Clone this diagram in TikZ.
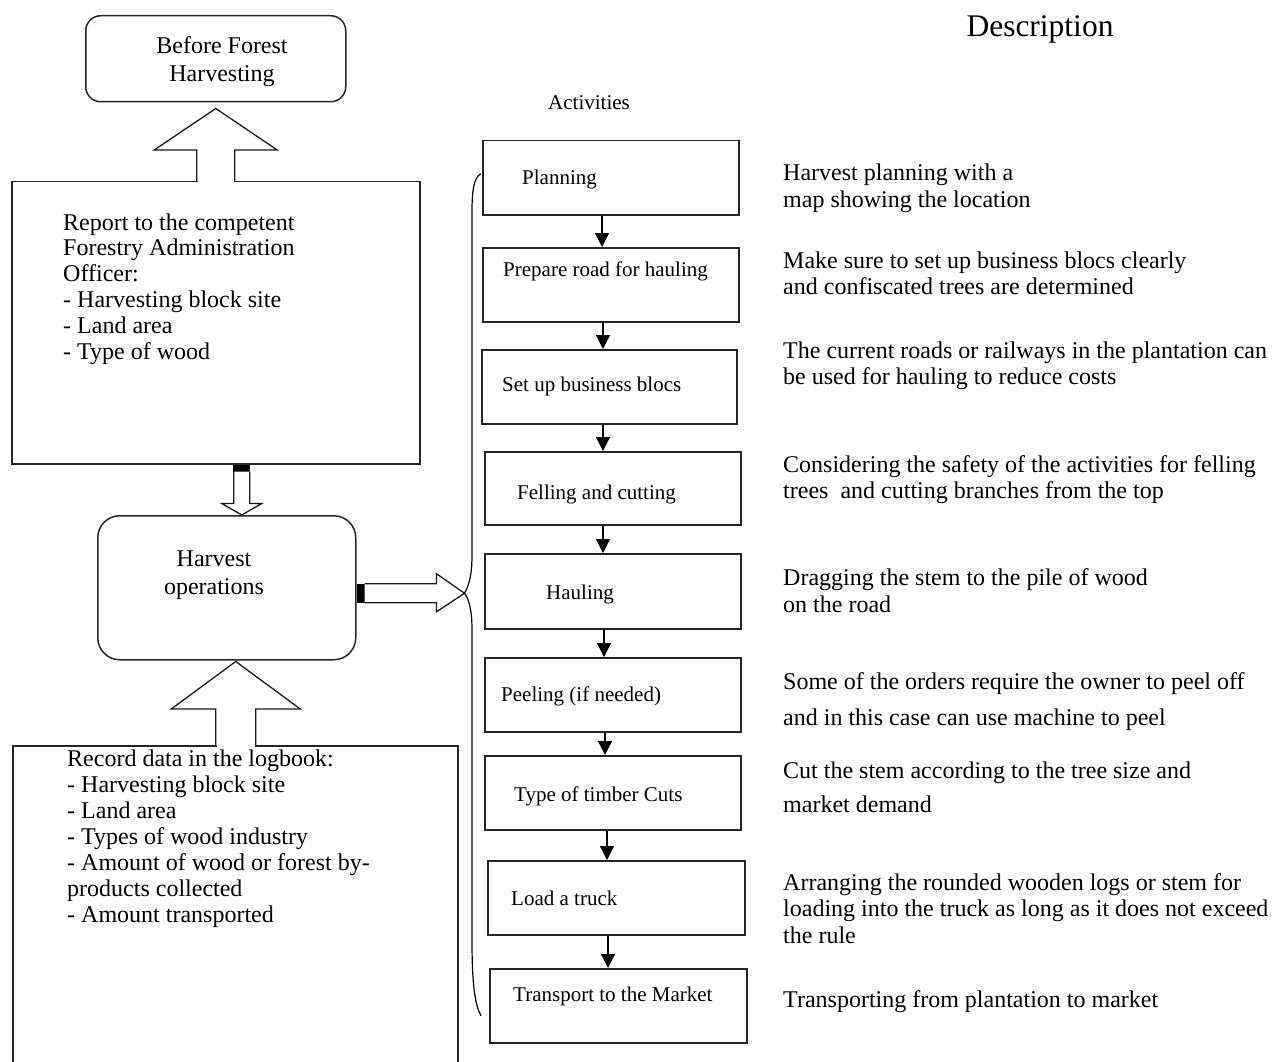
\documentclass[tikz,border=0pt]{standalone}
\usepackage{fontspec}
\setmainfont{Liberation Serif}
\usetikzlibrary{calc,arrows.meta}
\begin{document}
\begin{tikzpicture}[x=1pt,y=-1pt,
  frame/.style={draw=black!85,line width=1.5pt},
  stepbox/.style={frame,rectangle,inner sep=0pt,anchor=north west},
  roundbox/.style={frame,rectangle,rounded corners=#1,inner sep=0pt,anchor=north west},
  lbl/.style={inner sep=0pt,anchor=base west,font=\fontsize{21}{25}\selectfont},
  txt/.style={inner sep=0pt,anchor=base west,font=\fontsize{24}{26}\selectfont},
  ctxt/.style={inner sep=0pt,anchor=base,font=\fontsize{24}{26}\selectfont},
  flow/.style={line width=1.2pt,-{Triangle[width=14pt,length=14pt]}},
  blockarrow/.style={draw=black!90,line width=1.3pt,fill=white,line join=miter},
  brace/.style={line width=1.2pt}
]
\useasboundingbox (0,0) rectangle (1283,1062);
\fill[white] (0,0) rectangle (1283,1062);

% ---------- left column ----------
\node[roundbox=15pt,minimum width=260pt,minimum height=86pt] (before) at (85,15) {};
\node[ctxt] (beforeA) at (222,53.3) {Before Forest};
\node[ctxt] (beforeB) at (222,81.7) {Harvesting};

\node[stepbox,minimum width=408pt,minimum height=282pt] (report) at (11,181) {};
\foreach \ln [count=\i from 0] in {{Report to the competent},{Forestry Administration},{Officer:},{- Harvesting block site},{- Land area},{- Type of wood}}
  \node[txt] (rep\i) at (63,{230+25.8*\i}) {\ln};

\node[roundbox=22pt,minimum width=258pt,minimum height=144pt] (harvest) at (97,515) {};
\node[ctxt] (harvA) at (214,566) {Harvest};
\node[ctxt] (harvB) at (214,594) {operations};

\node[stepbox,minimum width=445pt,minimum height=360pt] (record) at (12,745) {};
\foreach \ln [count=\i from 0] in {{Record data in the logbook:},{- Harvesting block site},{- Land area},{- Types of wood industry},{- Amount of wood or forest by-},{products collected},{- Amount transported}}
  \node[txt] (rec\i) at (67,{766.7+26*\i}) {\ln};

% block arrow: report -> before
\coordinate (u1tip) at ($(before.south)+(0,6)$);
\coordinate (u1base) at (report.north);
\fill[white] ($(u1base)+(-18,-2)$) rectangle ($(u1base)+(18,2)$);
\draw[blockarrow] ($(u1base)+(-19,0)$) -- ($(u1base)+(-19,-31)$) -- ($(u1base)+(-61.5,-31)$)
  -- (u1tip) -- ($(u1base)+(61.5,-31)$) -- ($(u1base)+(19,-31)$) -- ($(u1base)+(19,0)$);

% block arrow: report -> harvest
\coordinate (d1top) at ($(report.south)+(26,0)$);
\coordinate (d1tip) at (d1top |- harvest.north);
\fill[black] ($(d1top)+(-8.5,0)$) rectangle ($(d1top)+(8.5,7)$);
\draw[blockarrow] ($(d1top)+(-8,7)$) -- ($(d1top)+(-8,39)$) -- ($(d1top)+(-20,39)$)
  -- (d1tip) -- ($(d1top)+(20,39)$) -- ($(d1top)+(8,39)$) -- ($(d1top)+(8,7)$);

% block arrow: record -> harvest
\coordinate (u2tip) at ($(harvest.south)+(9,1)$);
\coordinate (u2base) at (u2tip |- record.north);
\fill[white] ($(u2base)+(-19,-2)$) rectangle ($(u2base)+(19,2)$);
\draw[blockarrow] ($(u2base)+(-20,0)$) -- ($(u2base)+(-20,-36)$) -- ($(u2base)+(-64.5,-36)$)
  -- (u2tip) -- ($(u2base)+(64.5,-36)$) -- ($(u2base)+(20,-36)$) -- ($(u2base)+(20,0)$);

% block arrow: harvest -> activities
\coordinate (r0) at ($(harvest.east)+(0,5.5)$);
\coordinate (bracetip) at ($(r0)+(108,0)$);
\fill[black] ($(r0)+(0,-9.5)$) rectangle ($(r0)+(8,9.5)$);
\draw[blockarrow] ($(r0)+(8,-9.5)$) -- ($(r0)+(80,-9.5)$) -- ($(r0)+(80,-19.5)$)
  -- (bracetip) -- ($(r0)+(80,18.5)$) -- ($(r0)+(80,9.5)$) -- ($(r0)+(8,9.5)$);

% ---------- activities ----------
\node[inner sep=0pt,anchor=base,font=\fontsize{21}{25}\selectfont] (acttitle) at (589,110) {Activities};

\node[stepbox,minimum width=256pt,minimum height=74pt] (p1) at (482,140) {};
\node[stepbox,minimum width=256pt,minimum height=74pt] (p2) at (482,247) {};
\node[stepbox,minimum width=255pt,minimum height=74pt] (p3) at (481,349) {};
\node[stepbox,minimum width=256pt,minimum height=73pt] (p4) at (484,451) {};
\node[stepbox,minimum width=256pt,minimum height=75pt] (p5) at (484,553) {};
\node[stepbox,minimum width=256pt,minimum height=74pt] (p6) at (484,657) {};
\node[stepbox,minimum width=256pt,minimum height=74pt] (p7) at (484,755) {};
\node[stepbox,minimum width=257pt,minimum height=74pt] (p8) at (487,860) {};
\node[stepbox,minimum width=257pt,minimum height=74pt] (p9) at (489,968) {};

\node[lbl] (l1) at (522,185) {Planning};
\node[lbl] (l2) at (503,276.7) {Prepare road for hauling};
\node[lbl] (l3) at (502,391.7) {Set up business blocs};
\node[lbl] (l4) at (517,499) {Felling and cutting};
\node[lbl] (l5) at (546,599.3) {Hauling};
\node[lbl] (l6) at (501,701) {Peeling (if needed)};
\node[lbl] (l7) at (514,801.7) {Type of timber Cuts};
\node[lbl] (l8) at (511,905.7) {Load a truck};
\node[lbl] (l9) at (513,1001.7) {Transport to the Market};

\coordinate (a1) at ($(p1.south west)+(120,0)$);
\coordinate (a2) at ($(p2.south west)+(121,0)$);
\coordinate (a3) at ($(p3.south west)+(122,0)$);
\coordinate (a4) at ($(p4.south west)+(119,0)$);
\coordinate (a5) at ($(p5.south west)+(120,0)$);
\coordinate (a6) at ($(p6.south west)+(121,0)$);
\coordinate (a7) at ($(p7.south west)+(123,0)$);
\coordinate (a8) at ($(p8.south west)+(121,0)$);
\draw[flow] (a1) -- (a1 |- p2.north);
\draw[flow] (a2) -- (a2 |- p3.north);
\draw[flow] (a3) -- (a3 |- p4.north);
\draw[flow] (a4) -- (a4 |- p5.north);
\draw[flow] (a5) -- (a5 |- p6.north);
\draw[flow] (a6) -- (a6 |- p7.north);
\draw[flow] (a7) -- (a7 |- p8.north);
\draw[flow] (a8) -- (a8 |- p9.north);

% brace gathering the activities
\coordinate (bt) at ($(p1.west)+(-1,-4)$);
\coordinate (bb) at ($(p9.west)+(-8,10)$);
\draw[brace] (bt) .. controls (474,177) and (472,190) .. (472,212) -- (472,555)
  .. controls (472,578) and (468,587) .. (bracetip)
  .. controls (468,598) and (472,607) .. (472,630) -- (472,940)
  .. controls (472,985) and (475,1005) .. (bb);

% ---------- descriptions ----------
\node[inner sep=0pt,anchor=base,font=\fontsize{31.5}{36}\selectfont] (desctitle) at (1040,37) {Description};

\foreach \ln [count=\i from 0] in {{Harvest planning with a},{map showing the location}}
  \node[txt] (da\i) at (783,{181+26.3*\i}) {\ln};
\foreach \ln [count=\i from 0] in {{Make sure to set up business blocs clearly},{and confiscated trees are determined}}
  \node[txt] (db\i) at (783,{268+26*\i}) {\ln};
\foreach \ln [count=\i from 0] in {{The current roads or railways in the plantation can},{be used for hauling to reduce costs}}
  \node[txt] (dc\i) at (783,{358+26*\i}) {\ln};
\foreach \ln [count=\i from 0] in {{Considering the safety of the activities for felling},{trees~ and cutting branches from the top}}
  \node[txt] (dd\i) at (783,{472+26.5*\i}) {\ln};
\foreach \ln [count=\i from 0] in {{Dragging the stem to the pile of wood},{on the road}}
  \node[txt] (de\i) at (783,{585.7+26.7*\i}) {\ln};
\foreach \ln [count=\i from 0] in {{Some of the orders require the owner to peel off},{and in this case can use machine to peel}}
  \node[txt] (df\i) at (783,{689.5+35.5*\i}) {\ln};
\foreach \ln [count=\i from 0] in {{Cut the stem according to the tree size and},{market demand}}
  \node[txt] (dg\i) at (783,{778+34.4*\i}) {\ln};
\foreach \ln [count=\i from 0] in {{Arranging the rounded wooden logs or stem for},{loading into the truck as long as it does not exceed},{the rule}}
  \node[txt] (dh\i) at (783,{890+26.7*\i}) {\ln};
\node[txt] (di0) at (783,1007) {Transporting from plantation to market};

\end{tikzpicture}
\end{document}
